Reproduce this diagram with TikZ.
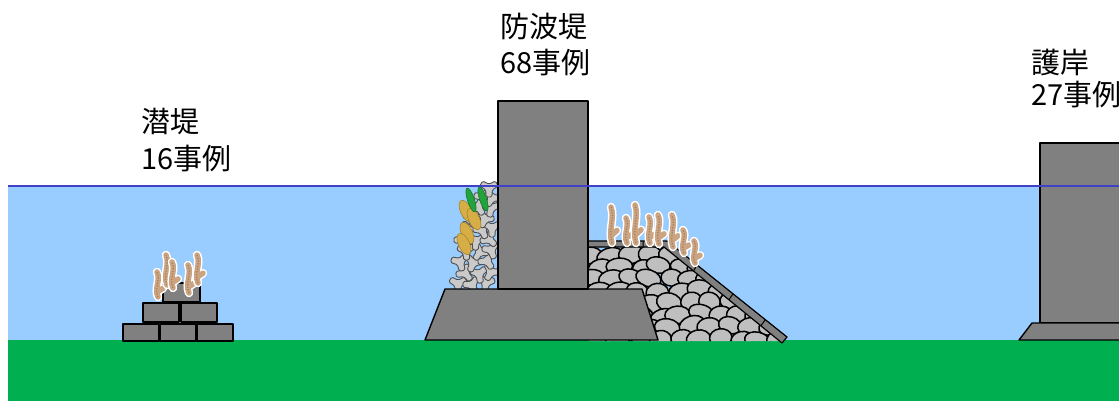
\documentclass[tikz,border=0pt]{standalone}
\usepackage{fontspec}
\newfontfamily\jp{Noto Sans CJK JP}
\definecolor{cwater}{HTML}{99CCFF}
\definecolor{cground}{HTML}{00B050}
\definecolor{cwline}{HTML}{4040C8}
\definecolor{cconc}{HTML}{808080}
\definecolor{crock}{HTML}{BFBFBF}
\definecolor{ctet}{HTML}{CACACA}
\definecolor{ctetl}{HTML}{505050}
\definecolor{cplume}{HTML}{CBA583}
\definecolor{cplumed}{HTML}{A47C55}
\definecolor{cleafy}{HTML}{D6AE45}
\definecolor{cleafyd}{HTML}{A9852A}
\definecolor{cleafg}{HTML}{22A33C}
\definecolor{cleafgd}{HTML}{137A28}
\begin{document}
\begin{tikzpicture}[x=1pt,y=-1pt,
  concrete/.style={fill=cconc,draw=black,line width=1.4pt,line join=round},
  rock/.style={fill=crock,draw=black,line width=1.5pt},
  tetstyle/.style={fill=ctet,draw=ctetl,line width=0.9pt,rounded corners=1.5pt},
  plumeW/.style={draw=white,line width=8.5pt,line cap=round},
  plumeB/.style={draw=cplume,line width=5.5pt,line cap=round},
  plumeT/.style={draw=cplumed,line width=1.2pt,dash pattern=on 1.2pt off 1.5pt},
  leafY/.style={fill=cleafy,draw=cleafyd,line width=0.6pt},
  leafG/.style={fill=cleafg,draw=cleafgd,line width=0.6pt},
  lbl/.style={font=\jp\fontsize{29}{35}\selectfont,inner sep=0pt,anchor=base west},
  tetra/.pic={\path[tetstyle] (72:9.5) -- (108:9.5) -- (150:3.8) -- (192:9.5) -- (228:9.5) -- (270:3.8) -- (312:9.5) -- (348:9.5) -- (30:3.8) -- cycle;}
]
\useasboundingbox (0,0) rectangle (1119,401);
% water and ground
\fill[cwater] (8,186) rectangle (1119,340);
\fill[cground] (8,340) rectangle (1119,401);

% rubble mound
\pgfmathsetseed{7}
\begin{scope}
\clip (588,246) -- (666,246) -- (781,341) -- (588,341) -- cycle;
\foreach \r in {0,...,7} {
  \foreach \c in {0,...,10} {
    \pgfmathsetmacro\xx{590 + \c*20 + mod(\r,2)*10 + rand*3}
    \pgfmathsetmacro\yy{255 + \r*12 + rand*2}
    \pgfmathsetmacro\rx{12+rand*1.5}
    \pgfmathsetmacro\ry{8.8+rand*1}
    \pgfmathsetmacro\ang{rand*20}
    \path[rock,rotate around={\ang:(\xx,\yy)}] (\xx,\yy) ellipse [x radius=\rx, y radius=\ry];
  }
}
\end{scope}
% cover slab
\path[concrete,line width=1.2pt] (588,241) -- (667,241) -- (787,337) -- (782,343) -- (664,247) -- (588,247) -- cycle;
\draw[black,line width=1pt] (615,241) -- (615,247) (643,241) -- (643,247)
  (697,265) -- (693.5,271) (733,293.8) -- (728.9,299.8) (765.4,319.7) -- (760.8,325.7);

% tetrapods
\foreach \x/\y/\r in {458/284/0, 472/285/25, 486/283/-10, 465/273/40, 479/274/10, 491/272/-30,
  460/262/15, 473/263/-20, 487/261/35, 466/251/5, 480/252/-35, 491/250/20, 463/240/30,
  476/241/-5, 489/239/45, 469/229/-15, 482/230/25, 492/228/0, 472/218/10, 485/219/-25,
  478/207/35, 491/208/-10, 483/197/20, 492/198/-30, 489/188/0}
  \pic[rotate=\r] at (\x,\y) {tetra};

% leaves
\foreach \x/\y in {466/211, 474/219, 467/233, 464/244}
  \path[leafY,rotate around={25:(\x,\y)}] (\x,\y) ellipse [x radius=5.5, y radius=11.5];
\foreach \x/\y in {471/200, 483/199}
  \path[leafG,rotate around={18:(\x,\y)}] (\x,\y) ellipse [x radius=3.5, y radius=12.5];

% breakwater base and caisson
\path[concrete] (445,289) -- (642,289) -- (658,340) -- (425,340) -- cycle;
\path[concrete] (498,101) rectangle (588,289);

% submerged breakwater blocks
\path[concrete] (123,324) rectangle (159,341);
\path[concrete] (160,324) rectangle (196,341);
\path[concrete] (197,324) rectangle (233,341);
\path[concrete] (143,303) rectangle (179,322);
\path[concrete] (181,303) rectangle (217,322);
\path[concrete] (163,283) rectangle (200,302);

% seaweed plumes
\foreach \x/\yb/\yt in {612/243/207, 627/243/218, 636/243/205, 650/243/217, 659/244/215,
  673/247/215, 684/253/230, 695/263/241, 158/297/272, 167/285/255, 173/288/262, 189/293/265, 198/283/255} {
  \pgfmathsetmacro\h{\yb-\yt}
  \path[plumeW] (\x,\yb) .. controls (\x-4,{\yb-0.35*\h}) and (\x+3,{\yb-0.7*\h}) .. (\x-1,\yt)
     (\x-1,{\yb-0.2*\h}) -- (\x+5,{\yb-0.35*\h});
  \path[plumeB] (\x,\yb) .. controls (\x-4,{\yb-0.35*\h}) and (\x+3,{\yb-0.7*\h}) .. (\x-1,\yt)
     (\x-1,{\yb-0.2*\h}) -- (\x+5,{\yb-0.35*\h});
  \path[plumeT] (\x,\yb) .. controls (\x-4,{\yb-0.35*\h}) and (\x+3,{\yb-0.7*\h}) .. (\x-1,\yt);
}

% seawall
\path[concrete] (1040,143) rectangle (1130,323);
\path[concrete] (1032,323) -- (1130,323) -- (1130,340) -- (1019,340) -- cycle;

% water surface line
\draw[cwline,line width=1.3pt] (8,186) -- (1119,186);

% labels
\node[lbl] (lab1a) at (141,132) {潜堤};
\node[lbl] (lab1b) at (141,169) {16事例};
\node[lbl] (lab2a) at (500,38) {防波堤};
\node[lbl] (lab2b) at (500,74) {68事例};
\node[lbl] (lab3a) at (1031,74) {護岸};
\node[lbl] (lab3b) at (1031,106) {27事例};
\end{tikzpicture}
\end{document}
